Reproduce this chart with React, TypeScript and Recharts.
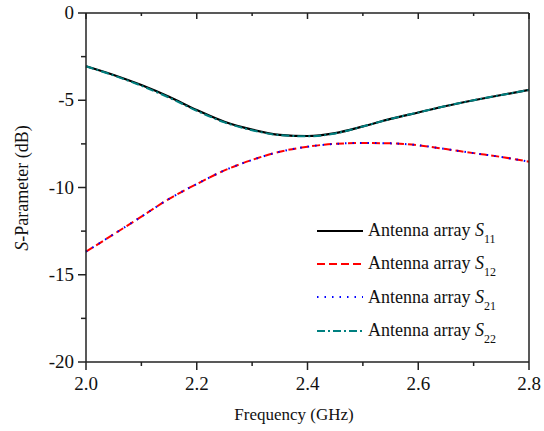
import React from "react";
import { LineChart, Line, XAxis, YAxis, Legend } from "recharts";

// frequency samples (GHz)
const freq = [2.0, 2.05, 2.1, 2.15, 2.2, 2.25, 2.3, 2.35, 2.4, 2.45, 2.5, 2.55, 2.6, 2.65, 2.7, 2.75, 2.8];

// S-parameters in dB
const s11 = [-3.05, -3.55, -4.13, -4.8, -5.56, -6.23, -6.68, -6.98, -7.05, -6.88, -6.5, -6.07, -5.7, -5.33, -5.0, -4.7, -4.41];
const s12 = [-13.68, -12.68, -11.67, -10.65, -9.8, -9.02, -8.42, -7.95, -7.66, -7.5, -7.45, -7.47, -7.58, -7.8, -8.03, -8.25, -8.52];
const s21 = [-13.68, -12.68, -11.67, -10.65, -9.8, -9.02, -8.42, -7.95, -7.66, -7.5, -7.45, -7.47, -7.58, -7.8, -8.03, -8.25, -8.52];
const s22 = [-3.05, -3.58, -4.17, -4.85, -5.6, -6.27, -6.72, -7.0, -7.07, -6.9, -6.5, -6.07, -5.7, -5.33, -5.0, -4.7, -4.41];

const xTicks = [2.0, 2.1, 2.2, 2.3, 2.4, 2.5, 2.6, 2.7, 2.8];
const yTicks = [-20, -17.5, -15, -12.5, -10, -7.5, -5, -2.5, 0];

const series = [
  { key: "s11", sub: "11", color: "#000000", dash: undefined, width: 2.2 },
  { key: "s12", sub: "12", color: "#ff0000", dash: "8 4", width: 2 },
  { key: "s21", sub: "21", color: "#0000ff", dash: "1.5 6", width: 2 },
  { key: "s22", sub: "22", color: "#008080", dash: "8 3 2 3", width: 2 },
];

const data = freq.map((f, i) => ({ f, s11: s11[i], s12: s12[i], s21: s21[i], s22: s22[i] }));

const FONT = "'Times New Roman', 'Liberation Serif', serif";
const AXIS = "#222";

const isMajorX = (v: number) => Math.round(v * 10) % 2 === 0;
const isMajorY = (v: number) => Math.round(v * 10) % 50 === 0;

const BottomTick = ({ x, y, payload }: any) => {
  const major = isMajorX(payload.value);
  return (
    <g>
      <line x1={x} y1={y} x2={x} y2={y + (major ? 8 : 4)} stroke={AXIS} strokeWidth={1.5} />
      {major && (
        <text x={x} y={y + 28} textAnchor="middle" fontSize={19} fontFamily={FONT} fill="#111">
          {payload.value.toFixed(1)}
        </text>
      )}
    </g>
  );
};

const TopTick = ({ x, y, payload }: any) => {
  const major = isMajorX(payload.value);
  return <line x1={x} y1={y} x2={x} y2={y + (major ? 6 : 3)} stroke={AXIS} strokeWidth={1.5} />;
};

const LeftTick = ({ x, y, payload }: any) => {
  const major = isMajorY(payload.value);
  return (
    <g>
      <line x1={x} y1={y} x2={x - (major ? 8 : 5)} y2={y} stroke={AXIS} strokeWidth={1.5} />
      {major && (
        <text x={x - 12} y={y + 6} textAnchor="end" fontSize={19} fontFamily={FONT} fill="#111">
          {String(payload.value)}
        </text>
      )}
    </g>
  );
};

const RightTick = ({ x, y, payload }: any) => {
  const major = isMajorY(payload.value);
  return <line x1={x} y1={y} x2={x - (major ? 6 : 3)} y2={y} stroke={AXIS} strokeWidth={1.5} />;
};

const LegendBox = () => (
  <div style={{ fontFamily: FONT, fontSize: 18, color: "#111" }}>
    {series.map((s) => (
      <div key={s.key} style={{ height: 33.3, display: "flex", alignItems: "center", whiteSpace: "nowrap" }}>
        <svg width={46} height={6} style={{ display: "block" }}>
          <line x1={0} y1={3} x2={46} y2={3} stroke={s.color} strokeWidth={2} strokeDasharray={s.dash} />
        </svg>
        <span style={{ marginLeft: 5 }}>
          Antenna array <i>S</i>
          <span style={{ fontSize: 12, position: "relative", top: 7 }}>{s.sub}</span>
        </span>
      </div>
    ))}
  </div>
);

export default function App() {
  return (
    <div style={{ position: "absolute", left: 0, top: 0, width: 544, height: 431, background: "#fff" }}>
      <LineChart width={544} height={431} data={data} margin={{ top: 12, right: 14, bottom: 68, left: 85 }}>
        <XAxis
          dataKey="f"
          type="number"
          domain={[2.0, 2.8]}
          ticks={xTicks}
          interval={0}
          height={1}
          tickSize={0}
          tickMargin={0}
          tickLine={false}
          tick={BottomTick}
          axisLine={{ stroke: AXIS, strokeWidth: 1.5 }}
        />
        <XAxis
          xAxisId="top"
          orientation="top"
          dataKey="f"
          type="number"
          domain={[2.0, 2.8]}
          ticks={xTicks}
          interval={0}
          height={1}
          tickSize={0}
          tickMargin={0}
          tickLine={false}
          tick={TopTick}
          axisLine={{ stroke: AXIS, strokeWidth: 1.5 }}
        />
        <YAxis
          type="number"
          domain={[-20, 0]}
          ticks={yTicks}
          interval={0}
          width={1}
          tickSize={0}
          tickMargin={0}
          tickLine={false}
          tick={LeftTick}
          axisLine={{ stroke: AXIS, strokeWidth: 1.5 }}
        />
        <YAxis
          yAxisId="right"
          orientation="right"
          type="number"
          domain={[-20, 0]}
          ticks={yTicks}
          interval={0}
          width={1}
          tickSize={0}
          tickMargin={0}
          tickLine={false}
          tick={RightTick}
          axisLine={{ stroke: AXIS, strokeWidth: 1.5 }}
        />
        {series.map((s) => (
          <Line
            key={s.key}
            dataKey={s.key}
            type="monotone"
            stroke={s.color}
            strokeWidth={s.width}
            strokeDasharray={s.dash}
            dot={false}
            activeDot={false}
            isAnimationActive={false}
          />
        ))}
        <Legend
          layout="vertical"
          align="center"
          verticalAlign="middle"
          wrapperStyle={{ left: 317, top: 214 }}
          content={<LegendBox />}
        />
      </LineChart>
      <div
        style={{
          position: "absolute",
          left: 0,
          width: 588,
          top: 405,
          textAlign: "center",
          fontFamily: FONT,
          fontSize: 17,
          color: "#111",
        }}
      >
        Frequency (GHz)
      </div>
      <div
        style={{
          position: "absolute",
          left: 22,
          top: 188,
          transform: "translate(-50%, -50%) rotate(-90deg)",
          whiteSpace: "nowrap",
          fontFamily: FONT,
          fontSize: 18,
          color: "#111",
        }}
      >
        <i>S</i>-Parameter (dB)
      </div>
    </div>
  );
}
